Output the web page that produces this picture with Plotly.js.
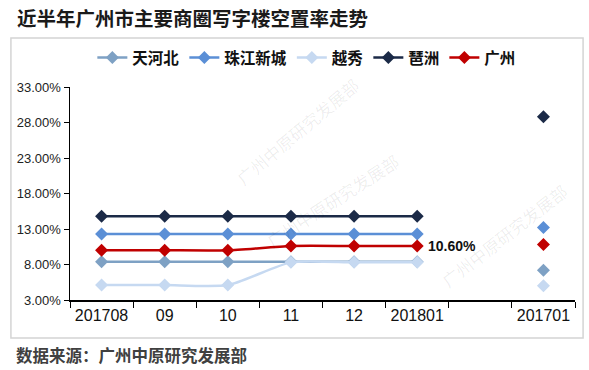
<!DOCTYPE html>
<html><head><meta charset="utf-8">
<script src="https://cdn.plot.ly/plotly-3.0.1.min.js"></script>
<style>body{margin:0;padding:0;background:#fff}#c{width:589px;height:370px}</style>
</head><body><div id="c"></div>
<script>
const categories = ['201708','09','10','11','12','201801','','201701'];
const seriesNames = ['天河北','珠江新城','越秀','琶洲','广州'];
const tianhebei = [8.4, 8.4, 8.4, 8.4, 8.4, 8.4, null, 7.2];
const zhujiang  = [12.3, 12.3, 12.3, 12.3, 12.3, 12.3, null, 13.2];
const yuexiu    = [5.1, 5.1, 5.1, 8.3, 8.3, 8.3, null, 5.0];
const pazhou    = [14.8, 14.8, 14.8, 14.8, 14.8, 14.8, null, 28.8];
const guangzhou = [10.0, 10.0, 10.0, 10.6, 10.6, 10.6, null, 10.8];
const colors = ['#7EA1C4','#5B8FD6','#C6D9F1','#1B2A47','#C00000'];
const allSeries = [tianhebei, zhujiang, yuexiu, pazhou, guangzhou];
const xIdx = categories.map((c, i) => i);

const traces = allSeries.map((vals, i) => ({
  type: 'scatter', mode: 'lines+markers', name: seriesNames[i],
  x: xIdx, y: vals, connectgaps: false,
  line: {color: colors[i], width: 2.5, shape: 'spline', smoothing: 0.6},
  marker: {symbol: 'diamond', size: 10, color: colors[i]}
}));

const wm = {font: {family: 'Noto Sans CJK SC', size: 17, color: 'rgba(0,0,0,0.07)'}, showarrow: false, xref: 'paper', yref: 'paper'};
const layout = {
  width: 589, height: 370,
  margin: {l: 70, r: 14, t: 87, b: 70},
  paper_bgcolor: '#fff', plot_bgcolor: '#fff',
  showlegend: true,
  legend: {orientation: 'h', x: 0.469, xanchor: 'center', y: 1.136, yanchor: 'middle',
    font: {family: 'Noto Sans CJK SC', size: 15.5, color: '#111', weight: 'bold'}, itemwidth: 30, tracegroupgap: 0},
  xaxis: {range: [-0.5, categories.length - 0.5], tickmode: 'array', tickvals: xIdx, ticktext: categories,
    showline: true, linecolor: '#000', linewidth: 1.5, ticks: '', tickangle: 0,
    minor: {tickmode: 'linear', tick0: -0.5, dtick: 1, ticks: 'outside', ticklen: 6, tickcolor: '#000', tickwidth: 1, showgrid: false},
    showgrid: false, zeroline: false,
    tickfont: {family: 'Liberation Sans, Arial', size: 16, color: '#111'}},
  yaxis: {range: [3, 33], dtick: 5, tick0: 3, tickformat: '.2f', ticksuffix: '%',
    showline: true, linecolor: '#000', linewidth: 1.5, ticks: 'outside', ticklen: 5, tickcolor: '#000',
    showgrid: false, zeroline: false,
    tickfont: {family: 'Liberation Sans, Arial', size: 13, color: '#222'}},
  shapes: [{type: 'rect', xref: 'paper', yref: 'paper', x0: -0.117, x1: 1.016, y0: -0.178, y1: 1.23,
    line: {color: '#D4D4D4', width: 1.5}, fillcolor: 'rgba(0,0,0,0)', layer: 'below'}],
  annotations: [
    {text: '近半年广州市主要商圈写字楼空置率走势', xref: 'paper', yref: 'paper', x: -0.108, y: 1.324,
      xanchor: 'left', yanchor: 'middle', showarrow: false,
      font: {family: 'Noto Sans CJK SC', size: 19.5, color: '#1a1a1a', weight: 'bold'}},
    {text: '数据来源：广州中原研究发展部', xref: 'paper', yref: 'paper', x: -0.11, y: -0.258,
      xanchor: 'left', yanchor: 'middle', showarrow: false,
      font: {family: 'Noto Sans CJK SC', size: 16.5, color: '#404040', weight: 'bold'}},
    {text: guangzhou[5].toFixed(2) + '%', x: xIdx[5], y: guangzhou[5], xref: 'x', yref: 'y',
      xanchor: 'left', yanchor: 'middle', xshift: 9, showarrow: false,
      font: {family: 'Liberation Sans, Arial', size: 14, color: '#111', weight: 'bold'}},
    Object.assign({text: '广州中原研究发展部', x: 0.45, y: 1.08, textangle: -40}, wm),
    Object.assign({text: '广州中原研究发展部', x: 0.52, y: 0.21, textangle: -33}, wm),
    Object.assign({text: '广州中原研究发展部', x: 1.0, y: 0.02, textangle: -38}, wm)
  ]
};
Plotly.newPlot('c', traces, layout, {displayModeBar: false, staticPlot: true});
</script></body></html>
